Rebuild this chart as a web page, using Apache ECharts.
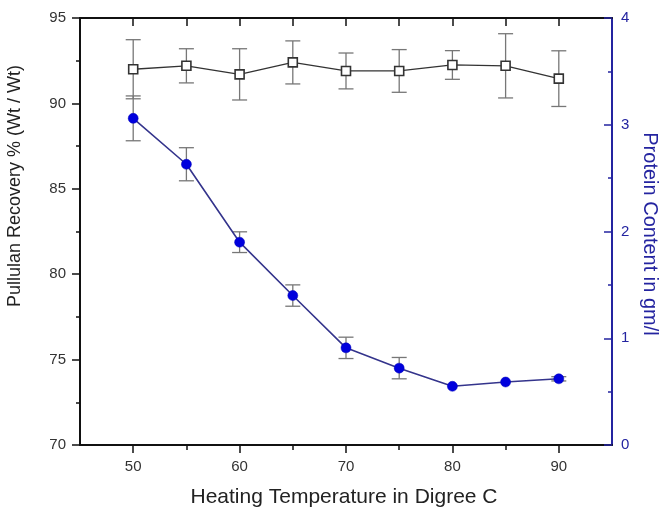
<!DOCTYPE html>
<html>
<head>
<meta charset="utf-8">
<script src="https://cdn.jsdelivr.net/npm/echarts@6/dist/echarts.min.js"></script>
<style>
  html, body { margin: 0; padding: 0; background: #fff; }
  #chart { width: 662px; height: 508px; }
</style>
</head>
<body>
<div id="chart"></div>
<script>
const TEMPS = [50, 55, 60, 65, 70, 75, 80, 85, 90];
const RECOVERY = [92.0, 92.2, 91.7, 92.4, 91.9, 91.9, 92.25, 92.2, 91.45];
const RECOVERY_ERR = [1.73, 1.0, 1.5, 1.26, 1.05, 1.25, 0.84, 1.88, 1.63];
const PROTEIN = [3.06, 2.63, 1.90, 1.40, 0.91, 0.72, 0.55, 0.59, 0.62];
const PROTEIN_ERR = [0.21, 0.155, 0.097, 0.1, 0.1, 0.1, 0, 0, 0.02];

const X_LABELS = [50, 60, 70, 80, 90];
const X_MINOR = [55, 65, 75, 85];
const X_TOP = [50, 55, 60, 65, 70, 75, 80, 85, 90];

const BLUE_AXIS = "#2424a0";
const FONT = "Liberation Sans, Arial, sans-serif";

const chart = echarts.init(document.getElementById("chart"));

function errRows(vals, errs) {
  return TEMPS.map((t, i) => [t, vals[i] - errs[i], vals[i] + errs[i]]);
}

function renderErr(params, api) {
  const x = api.value(0);
  const lo = api.value(1);
  const hi = api.value(2);
  if (hi - lo < 1e-6) return null;
  const top = api.coord([x, hi]);
  const bot = api.coord([x, lo]);
  const w = 7.5;
  const style = { stroke: "#777", lineWidth: 1.3 };
  return {
    type: "group",
    children: [
      { type: "line", shape: { x1: top[0], y1: top[1], x2: bot[0], y2: bot[1] }, style },
      { type: "line", shape: { x1: top[0] - w, y1: top[1], x2: top[0] + w, y2: top[1] }, style },
      { type: "line", shape: { x1: bot[0] - w, y1: bot[1], x2: bot[0] + w, y2: bot[1] }, style },
    ],
  };
}

const blackLine = { show: true, lineStyle: { color: "#111", width: 2 } };

chart.setOption({
  animation: false,
  grid: { left: 80, right: 50, top: 18, bottom: 63 },
  xAxis: [
    {
      type: "value", position: "bottom", min: 45, max: 95, interval: 5,
      axisLine: blackLine,
      axisTick: { show: true, customValues: X_LABELS, length: 8, lineStyle: { color: "#111", width: 1.5 } },
      axisLabel: { customValues: X_LABELS, color: "#333", fontSize: 15, fontFamily: FONT, margin: 14 },
      splitLine: { show: false },
    },
    {
      type: "value", position: "bottom", min: 45, max: 95, interval: 5,
      axisLine: { show: false },
      axisTick: { show: true, customValues: X_MINOR, length: 5, lineStyle: { color: "#111", width: 1.5 } },
      axisLabel: { show: false },
      splitLine: { show: false },
    },
    {
      type: "value", position: "top", min: 45, max: 95, interval: 5,
      axisLine: blackLine,
      axisTick: { show: true, inside: true, customValues: X_TOP, length: 8, lineStyle: { color: "#111", width: 1.5 } },
      axisLabel: { show: false },
      splitLine: { show: false },
    },
  ],
  yAxis: [
    {
      type: "value", position: "left", min: 70, max: 95, interval: 5,
      axisLine: blackLine,
      axisTick: { show: true, length: 8, lineStyle: { color: "#111", width: 1.5 } },
      minorTick: { show: true, splitNumber: 2, length: 4, lineStyle: { color: "#111", width: 1.5 } },
      axisLabel: { color: "#333", fontSize: 15, fontFamily: FONT, margin: 14 },
      splitLine: { show: false },
    },
    {
      type: "value", position: "right", min: 0, max: 4, interval: 1,
      axisLine: { show: true, lineStyle: { color: BLUE_AXIS, width: 2 } },
      axisTick: { show: true, inside: true, length: 8, lineStyle: { color: BLUE_AXIS, width: 1.5 } },
      minorTick: { show: true, splitNumber: 2, length: 4, lineStyle: { color: BLUE_AXIS, width: 1.5 } },
      axisLabel: { color: BLUE_AXIS, fontSize: 15, fontFamily: FONT, margin: 9 },
      splitLine: { show: false },
    },
  ],
  graphic: [
    {
      type: "text", x: 344, y: 497,
      style: { text: "Heating Temperature in Digree C", font: "21px " + FONT, fill: "#222", align: "center", verticalAlign: "middle" },
    },
    {
      type: "text", x: 15, y: 186, rotation: Math.PI / 2,
      style: { text: "Pullulan Recovery % (Wt / Wt)", font: "18px " + FONT, fill: "#222", align: "center", verticalAlign: "middle" },
    },
    {
      type: "text", x: 650, y: 234, rotation: -Math.PI / 2,
      style: { text: "Protein Content in gm/l", font: "20px " + FONT, fill: BLUE_AXIS, align: "center", verticalAlign: "middle" },
    },
  ],
  series: [
    {
      type: "custom", xAxisIndex: 0, yAxisIndex: 0, z: 1,
      renderItem: renderErr, data: errRows(RECOVERY, RECOVERY_ERR),
    },
    {
      type: "custom", xAxisIndex: 0, yAxisIndex: 1, z: 1,
      renderItem: renderErr, data: errRows(PROTEIN, PROTEIN_ERR),
    },
    {
      name: "Recovery", type: "line", xAxisIndex: 0, yAxisIndex: 0, z: 3,
      data: TEMPS.map((t, i) => [t, RECOVERY[i]]),
      symbol: "rect", symbolSize: 9,
      lineStyle: { color: "#333", width: 1.3 },
      itemStyle: { color: "#fff", borderColor: "#333", borderWidth: 1.6 },
    },
    {
      name: "Protein", type: "line", xAxisIndex: 0, yAxisIndex: 1, z: 3,
      data: TEMPS.map((t, i) => [t, PROTEIN[i]]),
      symbol: "circle", symbolSize: 10,
      lineStyle: { color: "#34348c", width: 1.6 },
      itemStyle: { color: "#0000dd", borderColor: "#0000bb", borderWidth: 0.5 },
    },
  ],
});
</script>
</body>
</html>
